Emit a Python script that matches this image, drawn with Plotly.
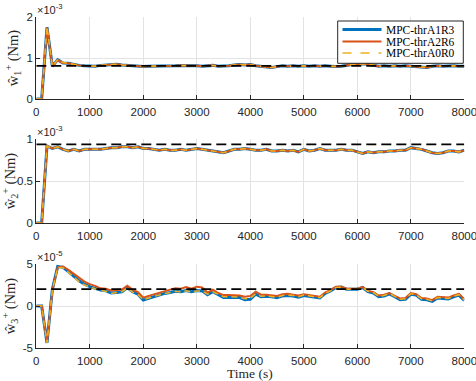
import plotly.graph_objects as go

# time axis (s), sampled every 100 s
t = list(range(0, 8100, 100))

series_names = ["MPC-thrA1R3", "MPC-thrA2R6", "MPC-thrA0R0"]
colors = ["#0072BD", "#D95319", "#EDB120"]

# panel 1 values (x 1e-3 Nm)
w1_A1R3 = [0, 0, 1.75, 0.80, 0.96, 0.88, 0.87, 0.84, 0.82, 0.81, 0.80, 0.80, 0.82, 0.83, 0.84, 0.85, 0.83, 0.82, 0.80, 0.79,
           0.79, 0.80, 0.80, 0.80, 0.81, 0.80, 0.81, 0.82, 0.82, 0.81, 0.81, 0.80, 0.81, 0.82, 0.80, 0.80, 0.81, 0.83, 0.84, 0.83,
           0.84, 0.81, 0.80, 0.79, 0.77, 0.79, 0.81, 0.80, 0.81, 0.80, 0.81, 0.80, 0.81, 0.80, 0.81, 0.80, 0.79, 0.80, 0.82, 0.84,
           0.84, 0.86, 0.85, 0.83, 0.80, 0.81, 0.80, 0.81, 0.80, 0.81, 0.80, 0.80, 0.78, 0.77, 0.80, 0.81, 0.80, 0.81, 0.81, 0.80, 0.80]
w1_A2R6 = [0, 0, 1.74, 0.80, 0.95, 0.88, 0.87, 0.84, 0.82, 0.81, 0.80, 0.80, 0.82, 0.83, 0.84, 0.85, 0.83, 0.82, 0.80, 0.79,
           0.79, 0.80, 0.80, 0.80, 0.81, 0.80, 0.81, 0.82, 0.82, 0.81, 0.81, 0.80, 0.81, 0.82, 0.80, 0.80, 0.81, 0.83, 0.84, 0.83,
           0.84, 0.81, 0.80, 0.79, 0.77, 0.79, 0.81, 0.80, 0.81, 0.80, 0.81, 0.80, 0.81, 0.80, 0.81, 0.80, 0.79, 0.80, 0.82, 0.84,
           0.84, 0.86, 0.85, 0.83, 0.80, 0.81, 0.80, 0.81, 0.80, 0.81, 0.80, 0.80, 0.78, 0.77, 0.80, 0.81, 0.80, 0.81, 0.81, 0.80, 0.80]
w1_A0R0 = [0, 0, 1.76, 0.80, 0.96, 0.89, 0.87, 0.84, 0.82, 0.81, 0.80, 0.80, 0.82, 0.83, 0.84, 0.85, 0.83, 0.82, 0.80, 0.79,
           0.79, 0.80, 0.80, 0.80, 0.81, 0.80, 0.81, 0.82, 0.82, 0.81, 0.81, 0.80, 0.81, 0.82, 0.80, 0.80, 0.81, 0.83, 0.84, 0.83,
           0.84, 0.81, 0.80, 0.79, 0.77, 0.79, 0.81, 0.80, 0.81, 0.80, 0.81, 0.80, 0.81, 0.80, 0.81, 0.80, 0.79, 0.80, 0.82, 0.84,
           0.84, 0.86, 0.85, 0.83, 0.80, 0.81, 0.80, 0.81, 0.80, 0.81, 0.80, 0.80, 0.78, 0.77, 0.80, 0.81, 0.80, 0.81, 0.81, 0.80, 0.80]
ref1 = 0.81

# panel 2 values (x 1e-3 Nm)
w2_A1R3 = [0, 0, 0.92, 0.89, 0.91, 0.88, 0.86, 0.88, 0.86, 0.88, 0.88, 0.88, 0.88, 0.89, 0.90, 0.90, 0.91, 0.91, 0.90, 0.91,
           0.89, 0.89, 0.88, 0.87, 0.88, 0.87, 0.87, 0.88, 0.87, 0.88, 0.89, 0.88, 0.87, 0.86, 0.85, 0.84, 0.86, 0.88, 0.88, 0.89,
           0.88, 0.87, 0.87, 0.88, 0.86, 0.86, 0.87, 0.86, 0.87, 0.85, 0.88, 0.86, 0.87, 0.89, 0.87, 0.87, 0.87, 0.88, 0.87, 0.87,
           0.85, 0.83, 0.85, 0.84, 0.85, 0.85, 0.86, 0.86, 0.87, 0.87, 0.90, 0.89, 0.88, 0.86, 0.84, 0.83, 0.84, 0.86, 0.86, 0.85, 0.87]
w2_A2R6 = [0, 0, 0.92, 0.89, 0.91, 0.88, 0.86, 0.88, 0.86, 0.88, 0.88, 0.88, 0.88, 0.89, 0.90, 0.90, 0.91, 0.91, 0.90, 0.91,
           0.89, 0.89, 0.88, 0.87, 0.88, 0.87, 0.87, 0.88, 0.87, 0.88, 0.89, 0.88, 0.87, 0.86, 0.85, 0.84, 0.86, 0.88, 0.88, 0.89,
           0.88, 0.87, 0.87, 0.88, 0.86, 0.86, 0.87, 0.86, 0.87, 0.85, 0.88, 0.86, 0.87, 0.89, 0.87, 0.87, 0.87, 0.88, 0.87, 0.87,
           0.85, 0.83, 0.85, 0.84, 0.85, 0.85, 0.86, 0.86, 0.87, 0.87, 0.90, 0.89, 0.88, 0.86, 0.84, 0.83, 0.84, 0.86, 0.86, 0.85, 0.87]
w2_A0R0 = [0, 0, 0.92, 0.89, 0.91, 0.88, 0.86, 0.88, 0.86, 0.88, 0.88, 0.88, 0.88, 0.89, 0.90, 0.90, 0.91, 0.91, 0.90, 0.91,
           0.89, 0.89, 0.88, 0.87, 0.88, 0.87, 0.87, 0.88, 0.87, 0.88, 0.89, 0.88, 0.87, 0.86, 0.85, 0.84, 0.86, 0.88, 0.88, 0.89,
           0.88, 0.87, 0.87, 0.88, 0.86, 0.86, 0.87, 0.86, 0.87, 0.85, 0.88, 0.86, 0.87, 0.89, 0.87, 0.87, 0.87, 0.88, 0.87, 0.87,
           0.85, 0.83, 0.85, 0.84, 0.85, 0.85, 0.86, 0.86, 0.87, 0.87, 0.90, 0.89, 0.88, 0.86, 0.84, 0.83, 0.84, 0.86, 0.86, 0.85, 0.87]
ref2 = 0.94

# panel 3 values (x 1e-5 Nm)
w3_A1R3 = [0, 0, -4.4, 2.0, 4.7, 4.6, 4.1, 3.5, 3.0, 2.6, 2.3, 2.1, 1.9, 1.8, 1.55, 1.6, 1.7, 2.2, 1.7, 1.4,
           0.7, 0.9, 1.1, 1.3, 1.5, 1.6, 1.75, 1.7, 1.85, 1.7, 1.85, 1.8, 1.35, 1.7, 1.3, 1.0, 1.0, 1.05, 1.0, 0.75,
           0.8, 1.4, 1.1, 1.15, 1.1, 1.0, 1.2, 1.25, 1.2, 1.05, 1.25, 1.15, 1.05, 0.95, 1.5, 1.8, 2.2, 2.25, 2.0, 2.0,
           2.0, 2.2, 1.7, 1.55, 1.1, 1.2, 1.45, 1.1, 0.75, 0.8, 1.4, 1.3, 0.8, 0.75, 0.55, 0.95, 0.9, 0.85, 1.1, 1.3, 0.65]
w3_A2R6 = [0, 0, -4.3, 1.8, 4.6, 4.7, 4.3, 3.8, 3.3, 2.9, 2.6, 2.4, 2.1, 2.05, 1.85, 1.9, 1.95, 2.4, 1.95, 1.65,
           1.0, 1.2, 1.4, 1.6, 1.8, 1.95, 2.1, 2.05, 2.25, 2.05, 2.3, 2.2, 1.6, 1.95, 1.55, 1.3, 1.3, 1.3, 1.25, 1.1,
           1.2, 1.7, 1.35, 1.35, 1.3, 1.2, 1.4, 1.45, 1.35, 1.25, 1.4, 1.3, 1.2, 1.1, 1.6, 1.9, 2.3, 2.3, 2.05, 2.05,
           2.05, 2.25, 1.8, 1.65, 1.25, 1.35, 1.55, 1.2, 0.9, 0.95, 1.55, 1.4, 0.95, 0.9, 0.7, 1.1, 1.05, 1.0, 1.25, 1.45, 0.8]
w3_A0R0 = [0, 0, -4.4, 1.9, 4.6, 4.55, 4.0, 3.4, 2.9, 2.5, 2.25, 2.05, 1.85, 1.75, 1.5, 1.6, 1.7, 2.15, 1.65, 1.35,
           0.75, 0.95, 1.15, 1.35, 1.5, 1.6, 1.75, 1.65, 1.8, 1.65, 1.8, 1.8, 1.4, 1.7, 1.35, 1.1, 1.1, 1.1, 1.05, 0.85,
           0.9, 1.45, 1.15, 1.2, 1.15, 1.05, 1.25, 1.3, 1.25, 1.1, 1.3, 1.2, 1.1, 1.0, 1.5, 1.8, 2.2, 2.25, 2.0, 2.0,
           2.0, 2.2, 1.75, 1.6, 1.15, 1.25, 1.5, 1.15, 0.8, 0.85, 1.45, 1.35, 0.85, 0.8, 0.6, 1.0, 0.95, 0.9, 1.15, 1.35, 0.7]
ref3 = 2.0

panels = [
    dict(data=[w1_A1R3, w1_A2R6, w1_A0R0], ref=ref1, yrange=[0, 2], ytick=[0, 1, 2], ytext=["0", "1", "2"],
         ylabel="ŵ<sub>1</sub><sup>+</sup> (Nm)", exp="×10<sup>-3</sup>"),
    dict(data=[w2_A1R3, w2_A2R6, w2_A0R0], ref=ref2, yrange=[0, 1], ytick=[0, 0.5, 1], ytext=["0", "0.5", "1"],
         ylabel="ŵ<sub>2</sub><sup>+</sup> (Nm)", exp="×10<sup>-3</sup>"),
    dict(data=[w3_A1R3, w3_A2R6, w3_A0R0], ref=ref3, yrange=[-5, 5], ytick=[-5, 0, 5], ytext=["-5", "0", "5"],
         ylabel="ŵ<sub>3</sub><sup>+</sup> (Nm)", exp="×10<sup>-5</sup>"),
]

W, H = 476, 381
x0, x1 = 36.3, 464.3
ybounds = [(17, 99), (139.3, 223), (264, 348)]
xticks = [0, 1000, 2000, 3000, 4000, 5000, 6000, 7000, 8000]

axcol = "#262626"
gridcol = "#e3e3e3"
tickfont = dict(family="Liberation Sans, Arial", size=11.5, color=axcol)
serif = "Liberation Serif, Times New Roman, serif"

fig = go.Figure()
widths = [3, 2, 1.5]
dashes = ["solid", "solid", "6px,4px"]

for i, p in enumerate(panels):
    xa = "x" if i == 0 else f"x{i+1}"
    ya = "y" if i == 0 else f"y{i+1}"
    for k in range(3):
        fig.add_trace(go.Scatter(
            x=t, y=p["data"][k], mode="lines", name=series_names[k],
            line=dict(color=colors[k], width=widths[k], dash=dashes[k]),
            showlegend=False, xaxis=xa, yaxis=ya))
    fig.add_trace(go.Scatter(
        x=[t[0], t[-1]], y=[p["ref"], p["ref"]], mode="lines", showlegend=False,
        line=dict(color="black", width=1.8, dash="10px,5px"), xaxis=xa, yaxis=ya))

    top, bot = ybounds[i]
    xkey = "xaxis" if i == 0 else f"xaxis{i+1}"
    ykey = "yaxis" if i == 0 else f"yaxis{i+1}"
    fig.layout[xkey] = dict(
        domain=[x0 / W, x1 / W], anchor=ya, range=[-0.01, 8000.01], tickvals=xticks,
        ticktext=[str(v) for v in xticks], ticks="inside", ticklen=4, tickcolor=axcol,
        showline=True, linecolor=axcol, linewidth=1, showgrid=True, gridcolor=gridcol,
        zeroline=False, tickfont=tickfont, automargin=False, ticklabeloverflow="allow",
        ticklabelstandoff=2)
    yr = p["yrange"]
    pad = (yr[1] - yr[0]) * 1e-5
    fig.layout[ykey] = dict(
        domain=[1 - bot / H, 1 - top / H], anchor=xa, range=[yr[0] - pad, yr[1] + pad], tickvals=p["ytick"],
        ticktext=p["ytext"], ticks="inside", ticklen=4, tickcolor=axcol,
        showline=True, linecolor=axcol, linewidth=1, showgrid=True, gridcolor=gridcol,
        zeroline=False, tickfont=tickfont, automargin=False,
        title=dict(text=p["ylabel"], font=dict(family=serif, size=14.5, color=axcol), standoff=4))
    fig.add_annotation(text=p["exp"], xref="paper", yref="paper", x=(x0 - 1) / W, y=1 - (top + 1) / H,
                       xanchor="left", yanchor="bottom", showarrow=False,
                       font=dict(family="Liberation Sans, Arial", size=11, color=axcol))

fig.add_annotation(text="Time (s)", xref="paper", yref="paper", x=250 / W, y=1 - 373 / H,
                   xanchor="center", yanchor="middle", showarrow=False,
                   font=dict(family=serif, size=13.5, color=axcol))

# legend box drawn by hand (compact, like the reference)
lg_left, lg_right, lg_top, lg_bot = 337.7, 463.3, 21, 63.3
row_y = [29.5, 41.5, 53.0]
fig.add_shape(type="rect", xref="paper", yref="paper",
              x0=lg_left / W, x1=lg_right / W, y0=1 - lg_bot / H, y1=1 - lg_top / H,
              line=dict(color=axcol, width=1), fillcolor="white", layer="above")
for k in range(3):
    fig.add_shape(type="line", xref="paper", yref="paper",
                  x0=342.5 / W, x1=381.5 / W, y0=1 - row_y[k] / H, y1=1 - row_y[k] / H,
                  line=dict(color=colors[k], width=widths[k], dash="dash" if k == 2 else "solid"),
                  layer="above")
    fig.add_annotation(text=series_names[k], xref="paper", yref="paper", x=384 / W, y=1 - row_y[k] / H,
                       xanchor="left", yanchor="middle", showarrow=False,
                       font=dict(family=serif, size=11.5, color="black"))

fig.update_layout(
    width=W, height=H, margin=dict(l=0, r=0, t=0, b=0),
    paper_bgcolor="white", plot_bgcolor="white", showlegend=False,
)

fig.write_html("out.html", config={"displayModeBar": False},
               post_script="document.body.style.margin='0';document.body.style.padding='0';")
